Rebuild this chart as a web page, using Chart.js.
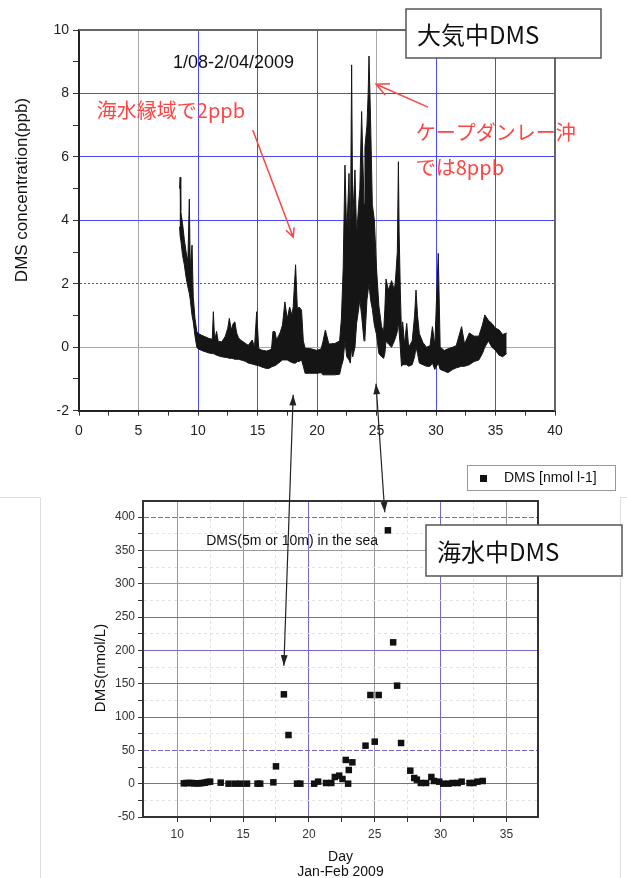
<!DOCTYPE html>
<html>
<head>
<meta charset="utf-8">
<script src="https://cdn.jsdelivr.net/npm/chart.js@4"></script>
<style>
  body { margin: 0; background: #fff; }
  .wrap { position: relative; width: 627px; height: 878px; }
  canvas { position: absolute; left: 0; top: 0; }
</style>
</head>
<body>
<div class="wrap">
  <canvas id="airChart" width="627" height="878"></canvas>
  <canvas id="seaChart" width="627" height="878"></canvas>
</div>
<script>
// Atmospheric DMS (ppb): lower and upper edge of the trace, by day (Jan-Feb 2009)
const airDay = [8.45, 8.5, 8.55, 8.7, 8.85, 9.0, 9.15, 9.27, 9.35, 9.5, 9.6, 9.75, 9.9,
  10.0, 10.3, 10.6, 10.9, 11.2, 11.29, 11.4, 11.56, 11.7, 12.0, 12.3, 12.5, 12.63, 12.8, 12.96,
  13.1, 13.25, 13.4, 13.6, 13.8, 14.0, 14.22, 14.56, 14.75, 14.93, 15.1, 15.34, 15.76, 16.0,
  16.18, 16.3, 16.47, 16.6, 16.9, 17.1, 17.3, 17.5, 17.7, 17.9, 18.0, 18.2, 18.35, 18.5, 18.7,
  18.85, 19.0, 19.5, 20.0, 20.35, 20.5, 20.7, 21.0, 21.5, 21.9, 22.05, 22.2, 22.35, 22.5, 22.69,
  22.8, 22.91, 23.0, 23.19, 23.33, 23.5, 23.6, 23.75, 23.95, 24.03, 24.2, 24.3, 24.37, 24.5,
  24.65, 24.82, 25.0, 25.2, 25.43, 25.6, 25.7, 25.8, 26.0, 26.27, 26.5, 26.6, 26.75, 26.84,
  26.9, 27.0, 27.1, 27.2, 27.35, 27.54, 27.7, 28.0, 28.2, 28.32, 28.45, 28.6, 28.9, 29.2, 29.5,
  29.7, 29.9, 30.19, 30.35, 30.7, 31.0, 31.4, 31.7, 32.15, 32.4, 32.8, 33.2, 33.6, 33.9, 34.1,
  34.4, 34.7, 35.0, 35.3, 35.6, 35.94];
const airLow = [3.8, 3.5, 3.4, 2.9, 2.6, 2.2, 1.9, 1.7, 1.5, 1.0, 0.8, 0.35, 0.0,
  -0.05, -0.1, -0.14, -0.18, -0.2, -0.2, -0.22, -0.25, -0.27, -0.3, -0.32, -0.33, -0.35, -0.35, -0.36,
  -0.38, -0.38, -0.38, -0.4, -0.42, -0.45, -0.5, -0.53, -0.55, -0.57, -0.58, -0.62, -0.67, -0.66,
  -0.62, -0.6, -0.58, -0.55, -0.46, -0.4, -0.4, -0.4, -0.45, -0.48, -0.5, -0.5, -0.45, -0.45, -0.4,
  -0.6, -0.82, -0.82, -0.82, -0.8, -0.87, -0.87, -0.87, -0.87, -0.85, -0.6, -0.4, 0.2, -0.3, -0.4,
  -0.5, 0.0, -0.3, 0.0, 0.76, 1.2, 1.5, 1.0, 0.2, 0.3, 1.5, 1.8, 2.0, 1.5,
  1.2, 0.7, 0.4, -0.2, -0.3, -0.35, -0.2, 0.2, 0.1, 0.0, 0.2, 0.3, 0.5, 0.8,
  0.5, 0.0, -0.6, -0.55, -0.55, -0.55, -0.6, -0.55, -0.3, 0.0, -0.2, -0.5, -0.55, -0.6, -0.6,
  -0.5, -0.7, -0.5, -0.7, -0.75, -0.8, -0.7, -0.65, -0.6, -0.6, -0.55, -0.45, -0.4, -0.2, 0.0,
  0.2, 0.0, -0.1, -0.25, -0.3, -0.2];
const airHigh = [5.0, 5.36, 4.3, 3.9, 3.4, 3.0, 2.7, 4.67, 2.5, 3.22, 1.6, 0.9, 0.5,
  0.44, 0.38, 0.33, 0.28, 0.25, 1.12, 0.22, 0.5, 0.18, 0.17, 0.35, 0.6, 0.91, 0.55, 0.75,
  0.8, 0.45, 0.3, 0.22, 0.17, 0.12, 0.06, 0.23, 0.0, 1.12, -0.04, -0.09, -0.12, -0.09,
  -0.05, 0.5, 0.49, 0.23, 0.46, 0.7, 1.43, 0.9, 1.27, 1.0, 1.28, 2.6, 1.2, 1.27, 1.17,
  0.2, -0.03, -0.05, -0.1, -0.05, 0.18, 0.54, 0.1, 0.12, 0.2, 0.9, 2.5, 5.74, 3.5, 5.48,
  3.0, 8.9, 4.0, 5.59, 3.5, 4.5, 5.0, 7.43, 4.5, 6.32, 7.0, 8.0, 9.18, 7.2,
  4.5, 4.0, 2.5, 1.3, 0.65, 0.5, 1.2, 2.15, 1.8, 2.1, 1.8, 2.15, 3.0, 5.85,
  3.64, 1.8, 0.45, 0.8, 0.1, 0.75, 0.0, 0.2, 1.0, 1.8, 1.0, 0.43, 0.15, 0.0, 0.05,
  0.65, 0.05, 2.96, 0.0, -0.1, -0.05, 0.0, 0.05, 0.65, 0.1, 0.45, 0.35, 0.35, 0.7, 1.02,
  0.85, 0.75, 0.6, 0.55, 0.4, 0.45];

// Seawater DMS at 5 m or 10 m depth (nmol/L)
const seaDay = [10.5, 10.7, 10.9, 11.1, 11.3, 11.5, 11.7, 11.9, 12.1, 12.3, 12.5, 13.3, 13.9,
  14.4, 14.8, 15.3, 16.1, 16.3, 17.3, 17.5, 18.1, 18.45, 19.1, 19.35, 20.4, 20.7, 21.3, 21.7,
  21.97, 22.3, 22.55, 22.8, 22.98, 23.03, 23.3, 24.3, 24.67, 25.0, 25.3, 26.0, 26.4, 26.7,
  27.0, 27.7, 28.0, 28.2, 28.5, 28.9, 29.3, 29.5, 29.9, 30.2, 30.6, 30.9, 31.3, 31.6, 32.2,
  32.5, 32.8, 33.2];
const seaDms = [0.5, 1, 1, 1, 0.5, 0.5, 0.5, 1, 1.5, 2.5, 3, 1.5, 0,
  0, 0, 0, 0, 0, 2, 26, 134, 73, 0, 0, 0, 3, 1, 1,
  10, 12, 7, 35.6, 0, 20.5, 32, 57, 133, 63, 133, 380, 212, 147,
  61, 19.5, 8.5, 6, 1, 1, 10, 4, 3, 0, 0, 1, 1, 3, 1,
  1, 3, 4];

// Tick positions
const airTicksX = [0, 2.5, 5, 7.5, 10, 12.5, 15, 17.5, 20, 22.5, 25, 27.5, 30, 32.5, 35, 37.5, 40];
const airTicksY = [-2, -1, 0, 1, 2, 3, 4, 5, 6, 7, 8, 9, 10];
const seaTicksX = [10, 12.5, 15, 17.5, 20, 22.5, 25, 27.5, 30, 32.5, 35];
const seaTicksY = [-50, -25, 0, 25, 50, 75, 100, 125, 150, 175, 200, 225, 250, 275, 300, 325, 350, 375, 400];

const BLUE = '#4848ff';
const GRAY = '#a8a8a8';
const PURPLE = '#7468cc';
const MINOR = '#e2e2e2';
const RED = '#ff4444';
const NONE = 'rgba(0,0,0,0)';
const JP = '"Noto Sans CJK JP", sans-serif';
const LATIN = '"Liberation Sans", Arial, sans-serif';

Chart.defaults.font.family = LATIN;
Chart.defaults.animation = false;

const toPoints = (xs, ys) => xs.map((x, i) => ({ x, y: ys[i] }));

function vText(ctx, text, cx, cy, font) {
  ctx.save();
  ctx.translate(cx, cy);
  ctx.rotate(-Math.PI / 2);
  ctx.font = font;
  ctx.textAlign = 'center';
  ctx.textBaseline = 'middle';
  ctx.fillText(text, 0, 0);
  ctx.restore();
}

// thin line with an open V head at (x2, y2)
function openArrow(ctx, x1, y1, x2, y2, len) {
  const a = Math.atan2(y2 - y1, x2 - x1);
  ctx.beginPath();
  ctx.moveTo(x1, y1);
  ctx.lineTo(x2, y2);
  ctx.moveTo(x2 - len * Math.cos(a - 0.45), y2 - len * Math.sin(a - 0.45));
  ctx.lineTo(x2, y2);
  ctx.lineTo(x2 - len * Math.cos(a + 0.45), y2 - len * Math.sin(a + 0.45));
  ctx.stroke();
}

// line with filled heads at both ends
function doubleArrow(ctx, x1, y1, x2, y2) {
  const a = Math.atan2(y2 - y1, x2 - x1);
  const head = (x, y, ang) => {
    ctx.beginPath();
    ctx.moveTo(x, y);
    ctx.lineTo(x - 11 * Math.cos(ang - 0.32), y - 11 * Math.sin(ang - 0.32));
    ctx.lineTo(x - 11 * Math.cos(ang + 0.32), y - 11 * Math.sin(ang + 0.32));
    ctx.closePath();
    ctx.fill();
  };
  ctx.beginPath();
  ctx.moveTo(x1, y1);
  ctx.lineTo(x2, y2);
  ctx.stroke();
  head(x1, y1, a + Math.PI);
  head(x2, y2, a);
}

function labelBox(ctx, text, x, y, w, h) {
  ctx.fillStyle = '#fff';
  ctx.fillRect(x, y, w, h);
  ctx.strokeStyle = '#555';
  ctx.lineWidth = 1.5;
  ctx.strokeRect(x, y, w, h);
  ctx.fillStyle = '#111';
  ctx.font = '24px ' + JP;
  ctx.textAlign = 'left';
  ctx.textBaseline = 'middle';
  ctx.fillText(text, x + 11, y + h / 2 + 1);
}

const airDecor = {
  id: 'airDecor',
  afterDraw(chart) {
    const { ctx, chartArea: a, scales: { x, y } } = chart;
    ctx.save();
    ctx.strokeStyle = '#666';
    ctx.lineWidth = 2;
    ctx.beginPath();
    ctx.moveTo(a.left, a.top);
    ctx.lineTo(a.right, a.top);
    ctx.lineTo(a.right, a.bottom);
    ctx.stroke();

    ctx.fillStyle = '#111';
    vText(ctx, 'DMS concentration(ppb)', 22, 190, '17px ' + LATIN);

    ctx.font = '18px ' + LATIN;
    ctx.textAlign = 'left';
    ctx.textBaseline = 'middle';
    ctx.fillText('1/08-2/04/2009', x.getPixelForValue(7.9), y.getPixelForValue(8.96));

    ctx.fillStyle = RED;
    ctx.font = '20px ' + JP;
    ctx.fillText('海水縁域で2ppb', x.getPixelForValue(1.5), y.getPixelForValue(7.48));
    ctx.fillText('ケープダンレー沖', x.getPixelForValue(28.3), y.getPixelForValue(6.78));
    ctx.fillText('では8ppb', x.getPixelForValue(28.3), y.getPixelForValue(5.68));

    ctx.strokeStyle = RED;
    ctx.lineWidth = 1.5;
    openArrow(ctx, x.getPixelForValue(14.6), y.getPixelForValue(6.85),
      x.getPixelForValue(18.0), y.getPixelForValue(3.47), 10);
    openArrow(ctx, x.getPixelForValue(29.33), y.getPixelForValue(7.57),
      x.getPixelForValue(24.96), y.getPixelForValue(8.29), 14);

    labelBox(ctx, '大気中DMS', 406, 9, 195, 49);
    ctx.restore();
  }
};

const airChart = new Chart(document.getElementById('airChart'), {
  type: 'line',
  data: {
    datasets: [
      { label: 'DMS low', data: toPoints(airDay, airLow), borderColor: '#151515', borderWidth: 1,
        pointRadius: 0, fill: false },
      { label: 'DMS (ppb)', data: toPoints(airDay, airHigh), borderColor: '#151515', borderWidth: 1,
        pointRadius: 0, backgroundColor: '#151515', fill: '-1' }
    ]
  },
  options: {
    responsive: false,
    layout: { padding: { left: 0, right: 72, top: 30, bottom: 427.3 } },
    plugins: { legend: { display: false }, tooltip: { enabled: false } },
    scales: {
      x: {
        type: 'linear', min: 0, max: 40,
        afterBuildTicks: (s) => { s.ticks = airTicksX.map((v) => ({ value: v })); },
        afterFit: (s) => { s.height = 40; },
        ticks: { autoSkip: false, maxRotation: 0, padding: 7, color: '#222', font: { size: 14 },
          callback: (v) => (v % 5 === 0 ? v : '') },
        grid: {
          tickLength: 5, tickColor: '#333',
          color: (c) => {
            if (!c.tick) return GRAY;
            const v = c.tick.value;
            if (v % 5 !== 0 || v === 0 || v === 40) return NONE;
            return v === 5 || v === 25 ? GRAY : BLUE;
          }
        },
        border: { color: '#222', width: 2 }
      },
      y: {
        type: 'linear', min: -2, max: 10,
        afterBuildTicks: (s) => { s.ticks = airTicksY.map((v) => ({ value: v })); },
        afterFit: (s) => { s.width = 79; },
        ticks: { autoSkip: false, padding: 4, color: '#222', font: { size: 14 },
          callback: (v) => (v % 2 === 0 ? v : '') },
        grid: {
          tickLength: 6, tickColor: '#333',
          color: (c) => {
            if (!c.tick) return GRAY;
            const v = c.tick.value;
            if (v % 2 !== 0 || v === -2 || v === 10) return NONE;
            return v === 0 ? GRAY : BLUE;
          }
        },
        border: { color: '#222', width: 2,
          dash: (c) => (c.tick && c.tick.value === 2 ? [2, 2] : []) }
      }
    }
  },
  plugins: [airDecor]
});

const seaDecor = {
  id: 'seaDecor',
  afterDraw(chart) {
    const { ctx, chartArea: a, scales: { x, y } } = chart;
    ctx.save();

    // outer edges of the lower panel
    ctx.strokeStyle = '#dedede';
    ctx.lineWidth = 1;
    ctx.beginPath();
    ctx.moveTo(0, 497.5); ctx.lineTo(40.5, 497.5); ctx.lineTo(40.5, 878);
    ctx.moveTo(627, 497.5); ctx.lineTo(620.5, 497.5); ctx.lineTo(620.5, 878);
    ctx.stroke();

    ctx.strokeStyle = '#333';
    ctx.lineWidth = 2;
    ctx.beginPath();
    ctx.moveTo(a.left, a.top);
    ctx.lineTo(a.right, a.top);
    ctx.lineTo(a.right, a.bottom);
    ctx.stroke();

    ctx.fillStyle = '#111';
    vText(ctx, 'DMS(nmol/L)', 101, 668, '15px ' + LATIN);
    ctx.font = '14px ' + LATIN;
    ctx.textAlign = 'center';
    ctx.textBaseline = 'middle';
    const mid = (a.left + a.right) / 2;
    ctx.fillText('Day', mid, 857);
    ctx.fillText('Jan-Feb 2009', mid, 872);

    ctx.textAlign = 'left';
    ctx.fillText('DMS(5m or 10m) in the sea', x.getPixelForValue(12.2), y.getPixelForValue(364));

    // legend
    ctx.fillStyle = '#fff';
    ctx.fillRect(467, 465, 148, 25);
    ctx.strokeStyle = '#999';
    ctx.lineWidth = 1;
    ctx.strokeRect(467.5, 465.5, 148, 25);
    ctx.fillStyle = '#111';
    ctx.fillRect(480, 475, 7, 7);
    ctx.font = '14px ' + LATIN;
    ctx.fillText(chart.data.datasets[0].label, 504, 478.5);

    labelBox(ctx, '海水中DMS', 426, 525, 196, 51);

    // links between the two panels
    const ax = airChart.scales.x;
    const ay = airChart.scales.y;
    ctx.strokeStyle = '#222';
    ctx.fillStyle = '#222';
    ctx.lineWidth = 1.2;
    doubleArrow(ctx, ax.getPixelForValue(18.0), ay.getPixelForValue(-1.5),
      x.getPixelForValue(18.1), y.getPixelForValue(177));
    doubleArrow(ctx, ax.getPixelForValue(24.96), ay.getPixelForValue(-1.15),
      x.getPixelForValue(25.76), y.getPixelForValue(407));
    ctx.restore();
  }
};

new Chart(document.getElementById('seaChart'), {
  type: 'scatter',
  data: {
    datasets: [{
      label: 'DMS [nmol l-1]',
      data: toPoints(seaDay, seaDms),
      pointStyle: 'rect', pointRadius: 4.6, borderWidth: 0,
      backgroundColor: '#111', borderColor: '#111'
    }]
  },
  options: {
    responsive: false,
    layout: { padding: { left: 83, right: 89, top: 501, bottom: 31 } },
    plugins: { legend: { display: false }, tooltip: { enabled: false } },
    scales: {
      x: {
        type: 'linear', min: 7.4, max: 37.4,
        afterBuildTicks: (s) => { s.ticks = seaTicksX.map((v) => ({ value: v })); },
        afterFit: (s) => { s.height = 30; },
        ticks: { autoSkip: false, maxRotation: 0, padding: 5, color: '#333', font: { size: 12 },
          callback: (v) => (v % 5 === 0 ? v : '') },
        grid: {
          tickLength: 5, tickColor: '#333',
          color: (c) => {
            if (!c.tick) return GRAY;
            const v = c.tick.value;
            if (v % 5 !== 0) return MINOR;
            return v === 20 || v === 30 ? PURPLE : '#999';
          }
        },
        border: { color: '#333', width: 2,
          dash: (c) => (c.tick && c.tick.value % 5 !== 0 ? [3, 3] : []) }
      },
      y: {
        type: 'linear', min: -50, max: 424,
        afterBuildTicks: (s) => { s.ticks = seaTicksY.map((v) => ({ value: v })); },
        afterFit: (s) => { s.width = 60; },
        ticks: { autoSkip: false, padding: 3, color: '#333', font: { size: 12 },
          callback: (v) => (v % 50 === 0 ? v : '') },
        grid: {
          tickLength: 5, tickColor: '#333',
          color: (c) => {
            if (!c.tick) return GRAY;
            const v = c.tick.value;
            if (v === -50) return NONE;
            if (v % 50 !== 0) return MINOR;
            return v === 300 || v === 350 ? '#999' : PURPLE;
          }
        },
        border: { color: '#333', width: 2,
          dash: (c) => {
            if (!c.tick) return [];
            const v = c.tick.value;
            if (v % 50 !== 0) return [3, 3];
            return v === 400 || v === 50 ? [5, 2] : [];
          } }
      }
    }
  },
  plugins: [seaDecor]
});
</script>
</body>
</html>
